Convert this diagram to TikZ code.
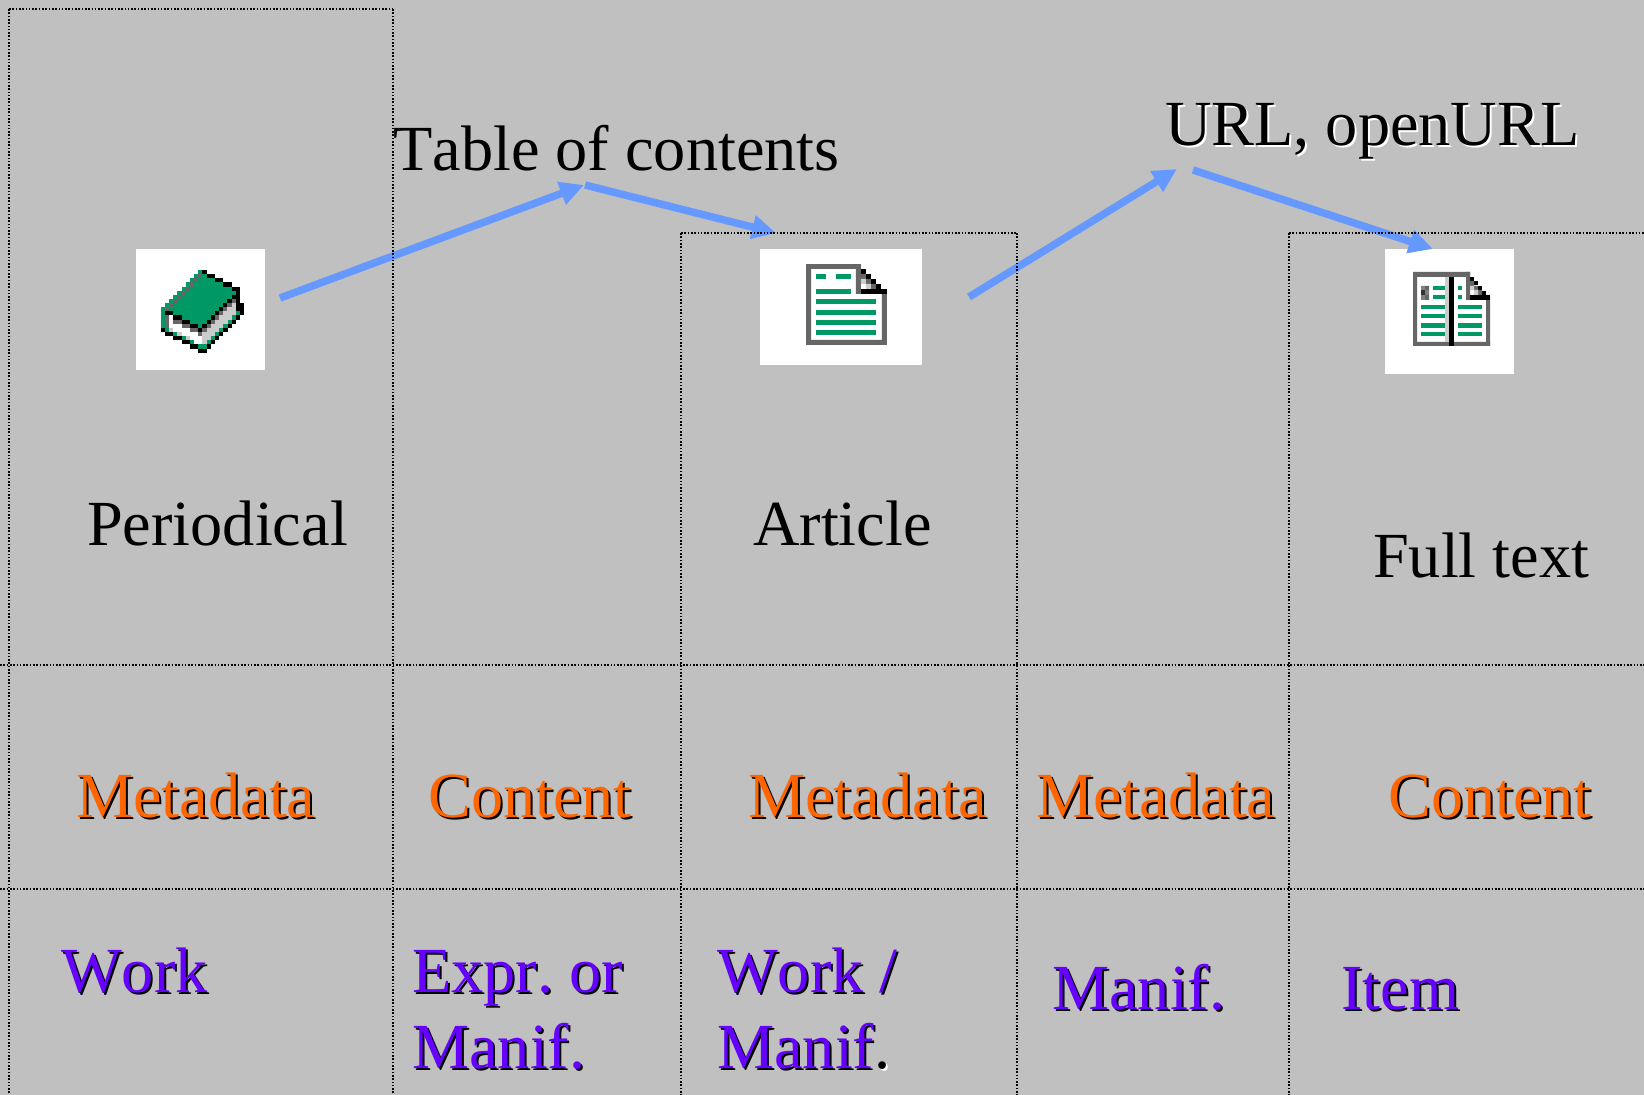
\documentclass[tikz,border=0pt]{standalone}
\usepackage{fontspec}
\setmainfont[Kerning=Off]{Liberation Serif}
\usetikzlibrary{arrows.meta}
\definecolor{slidegray}{RGB}{192, 192, 192}
\definecolor{linkblue}{RGB}{102, 153, 255}
\definecolor{metaorange}{RGB}{255, 102, 0}
\definecolor{frbrviolet}{RGB}{102, 0, 255}
\definecolor{icongreen}{RGB}{0, 153, 102}
\definecolor{icongray}{RGB}{102, 102, 102}
\definecolor{iconlight}{RGB}{204, 204, 204}
\newcommand{\shadowtext}[3]{\rlap{\kern2pt\raise-2pt\hbox{\textcolor{#2}{#3}}}\textcolor{#1}{#3}}
\newcommand{\metatext}[1]{\shadowtext{metaorange}{black}{#1}}
\newcommand{\frbrtext}[1]{\shadowtext{frbrviolet}{black}{#1}}
\frenchspacing
\tikzset{
  label/.style={anchor=base west, inner sep=0pt, align=left, font=\fontsize{64.3}{76}\selectfont},
  iconbox/.style={fill=white, inner sep=0pt},
  gridline/.style={black, line width=2pt, dash pattern=on 1.65pt off 1.65pt},
  linkarrow/.style={linkblue, line width=7.5pt, -{Triangle[length=24pt, width=23pt]}},
}
\begin{document}
\begin{tikzpicture}[x=1pt, y=-1pt]
  \fill[slidegray] (0,0) rectangle (1644,1095);
  \useasboundingbox (0,0) rectangle (1644,1095);

  % White icon boxes
  \node[iconbox, minimum width=129pt, minimum height=121pt] (bookbox) at (200.5, 309.5) {};
  \node[iconbox, minimum width=162pt, minimum height=116pt] (articlebox) at (841, 307) {};
  \node[iconbox, minimum width=129pt, minimum height=125pt] (fulltextbox) at (1449.5, 311.5) {};

  % Book icon
  \begin{scope}[shift={(150,260)}, x=0.3333pt, y=-0.3333pt]
    \foreach \r/\a/\b in {0/145/157, 1/132/145, 1/157/170, 2/120/132, 2/145/195, 3/108/120, 3/132/220, 4/95/108, 4/120/245,
      5/82/95, 5/108/258, 6/70/82, 6/95/245, 7/58/70, 7/82/232, 8/45/58, 8/70/220, 9/33/45, 9/58/208,
      10/33/45, 10/70/195, 10/258/270, 11/33/45, 11/95/183, 11/245/258, 12/33/45, 12/120/170, 12/233/245,
      13/33/45, 13/145/157, 13/220/233, 14/45/57, 14/208/220, 15/70/82, 15/195/208, 16/95/107, 16/183/195,
      17/120/132, 17/170/183, 18/145/170} {
      \fill[icongreen] (\a, 30+12.4*\r) rectangle (\b, 42.4+12.4*\r);
    }
    \foreach \r/\a/\b in {0/157/170, 1/170/195, 2/195/220, 3/220/245, 4/245/270, 5/258/270, 6/245/270, 7/232/245, 7/258/270,
      8/220/232, 8/258/283, 9/208/220, 9/258/283, 10/45/70, 10/195/208, 10/270/283, 11/70/95, 11/183/195, 11/258/270,
      12/95/120, 12/170/183, 12/245/258, 13/120/145, 13/157/170, 13/233/245, 14/33/45, 14/145/157, 14/220/233,
      15/45/70, 15/208/220, 16/70/95, 16/195/208, 17/95/120, 17/183/195, 18/120/145, 18/170/183, 19/145/170} {
      \fill[black] (\a, 30+12.4*\r) rectangle (\b, 42.4+12.4*\r);
    }
    \foreach \r/\a/\b in {1/145/157, 2/132/145, 3/120/132, 4/108/120, 5/95/108, 6/82/95, 7/70/82, 8/58/70, 9/45/58,
      7/245/258, 8/232/245, 9/220/232, 10/208/220, 11/45/57, 11/195/208, 12/45/57, 12/70/95, 12/183/195,
      13/45/57, 13/95/120, 13/170/183, 14/120/145, 14/157/170, 15/145/157} {
      \fill[icongray] (\a, 30+12.4*\r) rectangle (\b, 42.4+12.4*\r);
    }
    \foreach \r/\a/\b in {8/245/258, 9/232/258, 10/220/258, 11/208/245, 12/195/233, 13/183/220, 14/57/70, 14/170/208,
      15/82/95, 15/157/195, 16/107/120, 16/157/183, 17/157/170} {
      \fill[iconlight] (\a, 30+12.4*\r) rectangle (\b, 42.4+12.4*\r);
    }
  \end{scope}

  % Article icon
  \begin{scope}[shift={(740,230)}, x=0.3333pt, y=-0.3333pt]
    \fill[icongray] (198,102) rectangle (363,117) (198,102) rectangle (213,345) (198,330) rectangle (441,345);
    \fill[icongray] (426,192) rectangle (441,345) (348,102) rectangle (363,192);
    \foreach \x/\y in {363/117, 378/132, 393/147, 408/162} {
      \fill[black] (\x,\y) rectangle (\x+15,\y+15);
    }
    \fill[black] (363,177) rectangle (441,192);
    \fill[icongray] (363,132) rectangle (378,147) (378,147) rectangle (393,162) (393,162) rectangle (408,177);
    \fill[iconlight] (363,147) rectangle (378,162) (378,162) rectangle (393,177);
    \foreach \a/\b/\y in {228/258/132, 288/333/132, 228/333/177, 228/408/207, 228/408/240, 228/408/270, 228/408/300} {
      \fill[icongreen] (\a,\y) rectangle (\b,\y+15);
    }
  \end{scope}

  % Full text icon
  \begin{scope}[shift={(1370,230)}, x=0.3333pt, y=-0.3333pt]
    \fill[icongray] (129,126) rectangle (300,141) (129,126) rectangle (141,348) (129,336) rectangle (360,348);
    \fill[icongray] (348,195) rectangle (360,348) (288,126) rectangle (300,210);
    \foreach \x/\y in {300/141, 312/153, 324/168, 336/183} {
      \fill[black] (\x,\y) rectangle (\x+12,\y+12);
    }
    \fill[black] (300,195) rectangle (360,210);
    \fill[icongray] (300,153) rectangle (312,168) (312,168) rectangle (324,180) (324,180) rectangle (336,195);
    \fill[iconlight] (300,168) rectangle (312,180) (312,180) rectangle (324,195);
    \fill[iconlight] (225,141) rectangle (237,336);
    \fill[black] (237,141) rectangle (252,348);
    \fill[gray] (153,168) rectangle (165,180) (165,180) rectangle (177,195) (153,195) rectangle (165,210);
    \fill[icongray] (165,168) rectangle (177,180) (165,195) rectangle (177,210);
    \fill[black!80] (153,180) rectangle (165,195);
    \foreach \a/\b/\y in {189/225/168, 189/225/195, 264/276/168, 264/276/195, 153/225/225, 153/225/252, 153/225/280, 153/225/306,
      264/336/225, 264/336/252, 264/336/280, 264/336/306} {
      \fill[icongreen] (\a,\y) rectangle (\b,\y+13);
    }
  \end{scope}

  % Arrow ends
  \coordinate (periodicalout) at (280, 298);
  \coordinate (tocin) at (584, 185);
  \coordinate (tocout) at (585, 185);
  \coordinate (articlein) at (776, 233);
  \coordinate (articleout) at (969, 297);
  \coordinate (urlin) at (1177, 169);
  \coordinate (urlout) at (1193, 170);
  \coordinate (fulltextin) at (1433, 249);

  \draw[linkarrow] (periodicalout) -- (tocin);
  \draw[linkarrow] (tocout) -- (articlein);
  \draw[linkarrow] (articleout) -- (urlin);
  \draw[linkarrow] (urlout) -- (fulltextin);

  % Dotted grid
  \foreach \x/\y in {9/9, 393/9, 681/233, 1017/233, 1289/233} {
    \draw[gridline] (\x,\y) -- (\x,1095);
  }
  \foreach \a/\b/\y in {9/393/9, 681/1017/233, 1289/1644/233, 0/1644/665, 0/1644/889} {
    \draw[gridline] (\a,\y) -- (\b,\y);
  }

  % Top labels
  \node[label] (toclabel) at (393, 170) {Table of contents};
  \node[label] (urllabel) at (1165, 145) {\shadowtext{black}{white}{URL, openURL}};
  \node[label] (periodicallabel) at (87, 545) {Periodical};
  \node[label] (articlelabel) at (753, 545) {Article};
  \node[label] (fulltextlabel) at (1373, 577) {Full text};

  % Metadata row
  \node[label] (metaone) at (76, 817) {\metatext{Metadata}};
  \node[label] (contentone) at (428, 817) {\metatext{Content}};
  \node[label] (metatwo) at (748, 817) {\metatext{Metadata}};
  \node[label] (metathree) at (1036, 817) {\metatext{Metadata}};
  \node[label] (contenttwo) at (1388, 817) {\metatext{Content}};

  % FRBR row
  \node[label] (worklabel) at (61, 992) {\frbrtext{Work}};
  \node[label] (exprlabel) at (412, 992) {\frbrtext{Expr. or}};
  \node[label] (exprmanif) at (412, 1068) {\frbrtext{Manif.}};
  \node[label] (worktwo) at (717, 992) {\frbrtext{Work /}};
  \node[label] (manifone) at (717, 1068) {\frbrtext{Manif}\shadowtext{black}{white}{.}};
  \node[label] (maniftwo) at (1052, 1009) {\frbrtext{Manif.}};
  \node[label] (itemlabel) at (1341, 1009) {\frbrtext{Item}};
\end{tikzpicture}
\end{document}
